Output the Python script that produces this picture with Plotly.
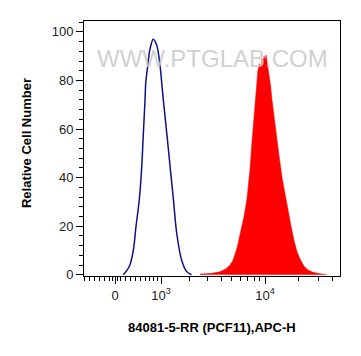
import numpy as np
import plotly.graph_objects as go

# ---- data (fluorescence intensity, APC-H) ----
control_x = [157, 272, 351, 407, 475, 527, 562, 600, 616, 662, 715, 796, 883, 972,
             1018, 1064, 1168, 1271, 1380, 1497, 1683, 1885, 2108]
control_y = [0, 3.4, 10, 20, 31, 44.5, 58, 72, 79, 86, 93, 97, 94.5, 86,
             79, 72, 58, 44.5, 31, 17, 6, 1.4, 0]

sample_x = [2548, 3170, 3910, 4440, 4830, 5140, 5590, 6080, 6460, 6870, 7310, 7610,
            7850, 8100, 8350, 8620, 8920, 9210, 9400, 9610, 9800, 10010, 10220,
            10440, 10650, 10870, 11210, 11560, 12050, 12690, 13370, 14230, 15140,
            16110, 17130, 18230, 19380, 20610, 22390, 24300, 26940, 31120, 36000]
sample_y = [0.3, 0.5, 1.2, 2.5, 4, 6, 11, 18, 24, 31, 43, 54,
            62, 69, 78, 84, 87, 85.5, 89, 87.5, 90, 88.5, 90.5,
            88, 85, 83, 78, 72, 65, 57, 49, 40, 33,
            26, 20, 14, 9.5, 6.5, 3.5, 2, 1, 0.4, 0]

major_ticks = [0, 1000, 10000]
major_labels = ["0", "10<sup>3</sup>", "10<sup>4</sup>"]
minor_ticks = [-600, -500, -400, -300, -200, -100, -50, 50, 100, 200, 300, 400, 500,
               600, 700, 800, 900, 2000, 3000, 4000, 5000, 6000, 7000, 8000,
               9000, 20000, 30000, 40000]
x_limits = [-622, 47000]
y_limits = [-0.5, 104.5]

W = 910.0  # biexponential-like width parameter


def T(v):
    return np.arcsinh(np.asarray(v, dtype=float) / W)


fig = go.Figure()
fig.add_trace(go.Scatter(
    x=T(sample_x), y=sample_y, mode="lines", fill="tozeroy",
    line=dict(color="#ff0000", width=0.5), fillcolor="#ff0000",
    showlegend=False, hoverinfo="skip"))
fig.add_trace(go.Scatter(
    x=T(control_x), y=control_y, mode="lines",
    line=dict(color="#101088", width=1.5, shape="spline"),
    showlegend=False, hoverinfo="skip"))

# page body has an 8px default margin; size the figure to fit the window
fig.update_layout(
    width=353, height=348,
    margin=dict(l=76, r=21, t=13, b=80),
    paper_bgcolor="white", plot_bgcolor="white",
    font=dict(family="Arial, Liberation Sans", size=12, color="#222"),
)
fig.update_xaxes(
    range=list(T(x_limits)), tickmode="array",
    tickvals=list(T(major_ticks)), ticktext=major_labels,
    ticks="outside", ticklen=7, tickwidth=1, tickcolor="black",
    showline=True, linecolor="black", linewidth=1, mirror=True,
    showgrid=False, zeroline=False,
    tickfont=dict(size=13, color="#222"),
    minor=dict(tickmode="array", tickvals=list(T(minor_ticks)),
               ticks="outside", ticklen=4, tickwidth=1, tickcolor="black",
               showgrid=False),
)
fig.update_yaxes(
    range=y_limits, tickmode="array", tickvals=[0, 20, 40, 60, 80, 100],
    ticks="outside", ticklen=7, tickwidth=1, tickcolor="black",
    showline=True, linecolor="black", linewidth=1, mirror=True,
    showgrid=False, zeroline=False,
    tickfont=dict(size=13, color="#222"),
    minor=dict(tickmode="linear", tick0=0, dtick=4, ticks="outside",
               ticklen=4, tickwidth=1, tickcolor="black", showgrid=False),
)

fig.add_annotation(text="WWW.PTGLAB.COM", xref="paper", yref="paper",
                   x=0.5, y=0.914, showarrow=False,
                   font=dict(family="Arial, Liberation Sans", size=24,
                             color="rgba(200,200,200,0.85)"))
fig.add_annotation(text="<b>Relative Cell Number</b>", xref="paper", yref="paper",
                   x=-0.224, y=0.52, showarrow=False, textangle=-90,
                   xanchor="center", yanchor="middle",
                   font=dict(family="Arial, Liberation Sans", size=13, color="black"))
fig.add_annotation(text="<b>84081-5-RR (PCF11),APC-H</b>", xref="paper", yref="paper",
                   x=0.5, y=-0.2, showarrow=False, xanchor="center", yanchor="middle",
                   font=dict(family="Arial, Liberation Sans", size=13, color="black"))

fig.write_html("out.html")
